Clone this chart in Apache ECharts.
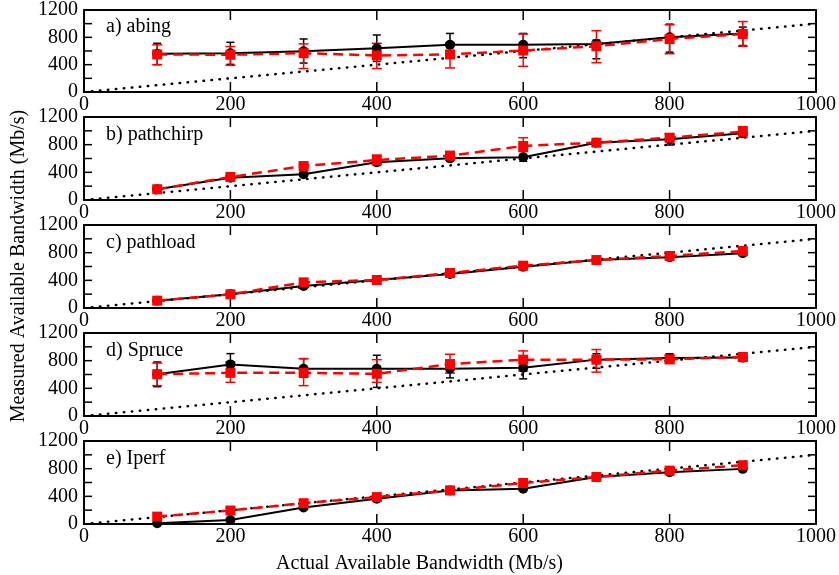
<!DOCTYPE html>
<html><head><meta charset="utf-8">
<script src="https://cdn.jsdelivr.net/npm/echarts@6/dist/echarts.min.js"></script>
<style>html,body{margin:0;padding:0;background:#fff}#c{width:839px;height:575px}</style>
</head><body><div id="c"></div>
<script>
const xs = [100,200,300,400,500,600,700,800,900];
const panelLabels = ['a) abing','b) pathchirp','c) pathload','d) Spruce','e) Iperf'];
const xTicks = [0,200,400,600,800,1000];
const yTicks = [0,400,800,1200];
const yTickMarks = [0,200,400,600,800,1000,1200];

const abingBlack   = [560,568,597,641,690,690,704,800,857];
const abingBlackLo = [400,405,424,448,502,502,487,583,680];
const abingBlackHi = [713,727,776,834,857,857,760,993,950];
const abingRed     = [550,545,568,535,550,607,670,776,848];
const abingRedLo   = [400,390,343,343,352,376,429,560,670];
const abingRedHi   = [690,665,704,713,718,848,897,983,1031];

const chirpBlack   = [155,323,371,545,602,617,829,877,964];
const chirpBlackLo = [140,300,350,500,560,560,810,795,930];
const chirpBlackHi = [170,345,390,590,640,660,850,900,1000];
const chirpRed     = [155,333,491,578,641,781,829,901,988];
const chirpRedLo   = [140,310,470,510,580,700,800,860,906];
const chirpRedHi   = [175,350,510,650,700,901,850,954,1060];

const loadBlack = [106,198,318,405,492,598,694,733,791];
const loadRed   = [106,198,371,405,506,612,694,752,824];

const spruceBlack   = [604,746,683,683,683,698,815,839,844];
const spruceBlackLo = [424,600,560,414,551,537,690,780,790];
const spruceBlackHi = [781,902,829,878,800,840,900,900,900];
const spruceRed     = [604,624,624,610,751,815,815,820,854];
const spruceRedLo   = [439,487,439,487,620,650,634,760,800];
const spruceRedHi   = [765,780,829,815,893,941,961,880,910];

const iperfBlack = [10,58,238,364,486,510,680,748,797];
const iperfRed   = [107,195,301,389,486,593,680,772,850];

const panels = [
  {b:abingBlack, bl:abingBlackLo, bh:abingBlackHi, r:abingRed, rl:abingRedLo, rh:abingRedHi},
  {b:chirpBlack, bl:chirpBlackLo, bh:chirpBlackHi, r:chirpRed, rl:chirpRedLo, rh:chirpRedHi},
  {b:loadBlack, r:loadRed},
  {b:spruceBlack, bl:spruceBlackLo, bh:spruceBlackHi, r:spruceRed, rl:spruceRedLo, rh:spruceRedHi},
  {b:iperfBlack, r:iperfRed}
];

const tops = [9,117,225,333,441];
const H = 83;
const FONT = 'Liberation Serif';
const chart = echarts.init(document.getElementById('c'), null, {renderer:'canvas'});

const grids = [], xAxes = [], yAxes = [], series = [], graphics = [];
const axLine = {show:true, onZero:false, lineStyle:{color:'#000', width:2}};
const tickStyle = {stroke:'#000', lineWidth:1.5};
panels.forEach((p, i) => {
  grids.push({left:84, width:732, top:tops[i], height:H, containLabel:false});
  xAxes.push({type:'value', gridIndex:i, min:0, max:1000, interval:200, position:'bottom',
    axisLine:axLine, axisTick:{show:false},
    axisLabel:{show:true, margin:3, color:'#000', fontFamily:FONT, fontSize:20,
      formatter:v => xTicks.includes(v) ? String(v) : ''},
    splitLine:{show:false}});
  xAxes.push({type:'value', gridIndex:i, min:0, max:1000, interval:200, position:'top',
    axisLine:axLine, axisTick:{show:false}, axisLabel:{show:false}, splitLine:{show:false}});
  yAxes.push({type:'value', gridIndex:i, min:0, max:1200, interval:200, position:'left',
    axisLine:axLine, axisTick:{show:false},
    axisLabel:{show:true, margin:6, color:'#000', fontFamily:FONT, fontSize:20,
      formatter:v => yTicks.includes(v) ? String(v) : ''},
    splitLine:{show:false}});
  yAxes.push({type:'value', gridIndex:i, min:0, max:1200, interval:200, position:'right',
    axisLine:axLine, axisTick:{show:false}, axisLabel:{show:false}, splitLine:{show:false}});
  const xi = 2*i, yi = 2*i;
  // inward ticks on all four sides
  series.push({type:'custom', xAxisIndex:xi, yAxisIndex:yi, z:2, silent:true, clip:false,
    data: xTicks.map(v => [v, 0]),
    renderItem:(params, api) => {
      const a = api.coord([api.value(0), 0]);
      const b = api.coord([api.value(0), 1200]);
      return {type:'group', children:[
        {type:'line', shape:{x1:a[0], y1:a[1], x2:a[0], y2:a[1]-10}, style:tickStyle},
        {type:'line', shape:{x1:b[0], y1:b[1], x2:b[0], y2:b[1]+10}, style:tickStyle}
      ]};
    }});
  series.push({type:'custom', xAxisIndex:xi, yAxisIndex:yi, z:2, silent:true, clip:false,
    data: yTickMarks.map(v => [0, v]),
    renderItem:(params, api) => {
      const a = api.coord([0, api.value(1)]);
      const b = api.coord([1000, api.value(1)]);
      return {type:'group', children:[
        {type:'line', shape:{x1:a[0], y1:a[1], x2:a[0]+8, y2:a[1]}, style:tickStyle},
        {type:'line', shape:{x1:b[0], y1:b[1], x2:b[0]-8, y2:b[1]}, style:tickStyle}
      ]};
    }});
  series.push({type:'line', xAxisIndex:xi, yAxisIndex:yi, data:[[0,0],[1000,1000]], symbol:'none',
    lineStyle:{color:'#000', width:2.5, type:[0.5,7.5], cap:'round'}, z:1, silent:true});
  const errSeries = (lo, hi, color, cap) => ({
    type:'custom', xAxisIndex:xi, yAxisIndex:yi, z:3,
    data: xs.map((x,k) => [x, lo[k], hi[k]]),
    renderItem:(params, api) => {
      const a = api.coord([api.value(0), api.value(1)]);
      const b = api.coord([api.value(0), api.value(2)]);
      const st = {stroke:color, lineWidth:1.5};
      return {type:'group', children:[
        {type:'line', shape:{x1:a[0], y1:a[1], x2:b[0], y2:b[1]}, style:st},
        {type:'line', shape:{x1:a[0]-cap, y1:a[1], x2:a[0]+cap, y2:a[1]}, style:st},
        {type:'line', shape:{x1:b[0]-cap, y1:b[1], x2:b[0]+cap, y2:b[1]}, style:st}
      ]};
    }
  });
  if (p.bl) series.push(errSeries(p.bl, p.bh, '#000', 4));
  series.push({type:'line', xAxisIndex:xi, yAxisIndex:yi, data:xs.map((x,k)=>[x,p.b[k]]),
    symbol:'circle', symbolSize:10, itemStyle:{color:'#000'}, lineStyle:{color:'#000', width:2}, z:4});
  if (p.rl) series.push(errSeries(p.rl, p.rh, '#ff0000', 5));
  series.push({type:'line', xAxisIndex:xi, yAxisIndex:yi, data:xs.map((x,k)=>[x,p.r[k]]),
    symbol:'rect', symbolSize:10, itemStyle:{color:'#ff0000'}, lineStyle:{color:'#ff0000', width:2.5, type:[10,6]}, z:5});
  graphics.push({type:'text', left:106, top:tops[i]+8,
    style:{text:panelLabels[i], fill:'#000', font:'20px "Liberation Serif"'}});
});
graphics.push({type:'text', left:'center', top:554,
  style:{text:'Actual Available Bandwidth (Mb/s)', fill:'#000', font:'20px "Liberation Serif"'}});
graphics.push({type:'text', x:19, y:266, rotation:Math.PI/2,
  style:{text:'Measured Available Bandwidth (Mb/s)', fill:'#000', font:'20px "Liberation Serif"', align:'center', verticalAlign:'middle'}});

chart.setOption({animation:false, backgroundColor:'#fff', grid:grids, xAxis:xAxes, yAxis:yAxes, series, graphic:graphics});
</script></body></html>
